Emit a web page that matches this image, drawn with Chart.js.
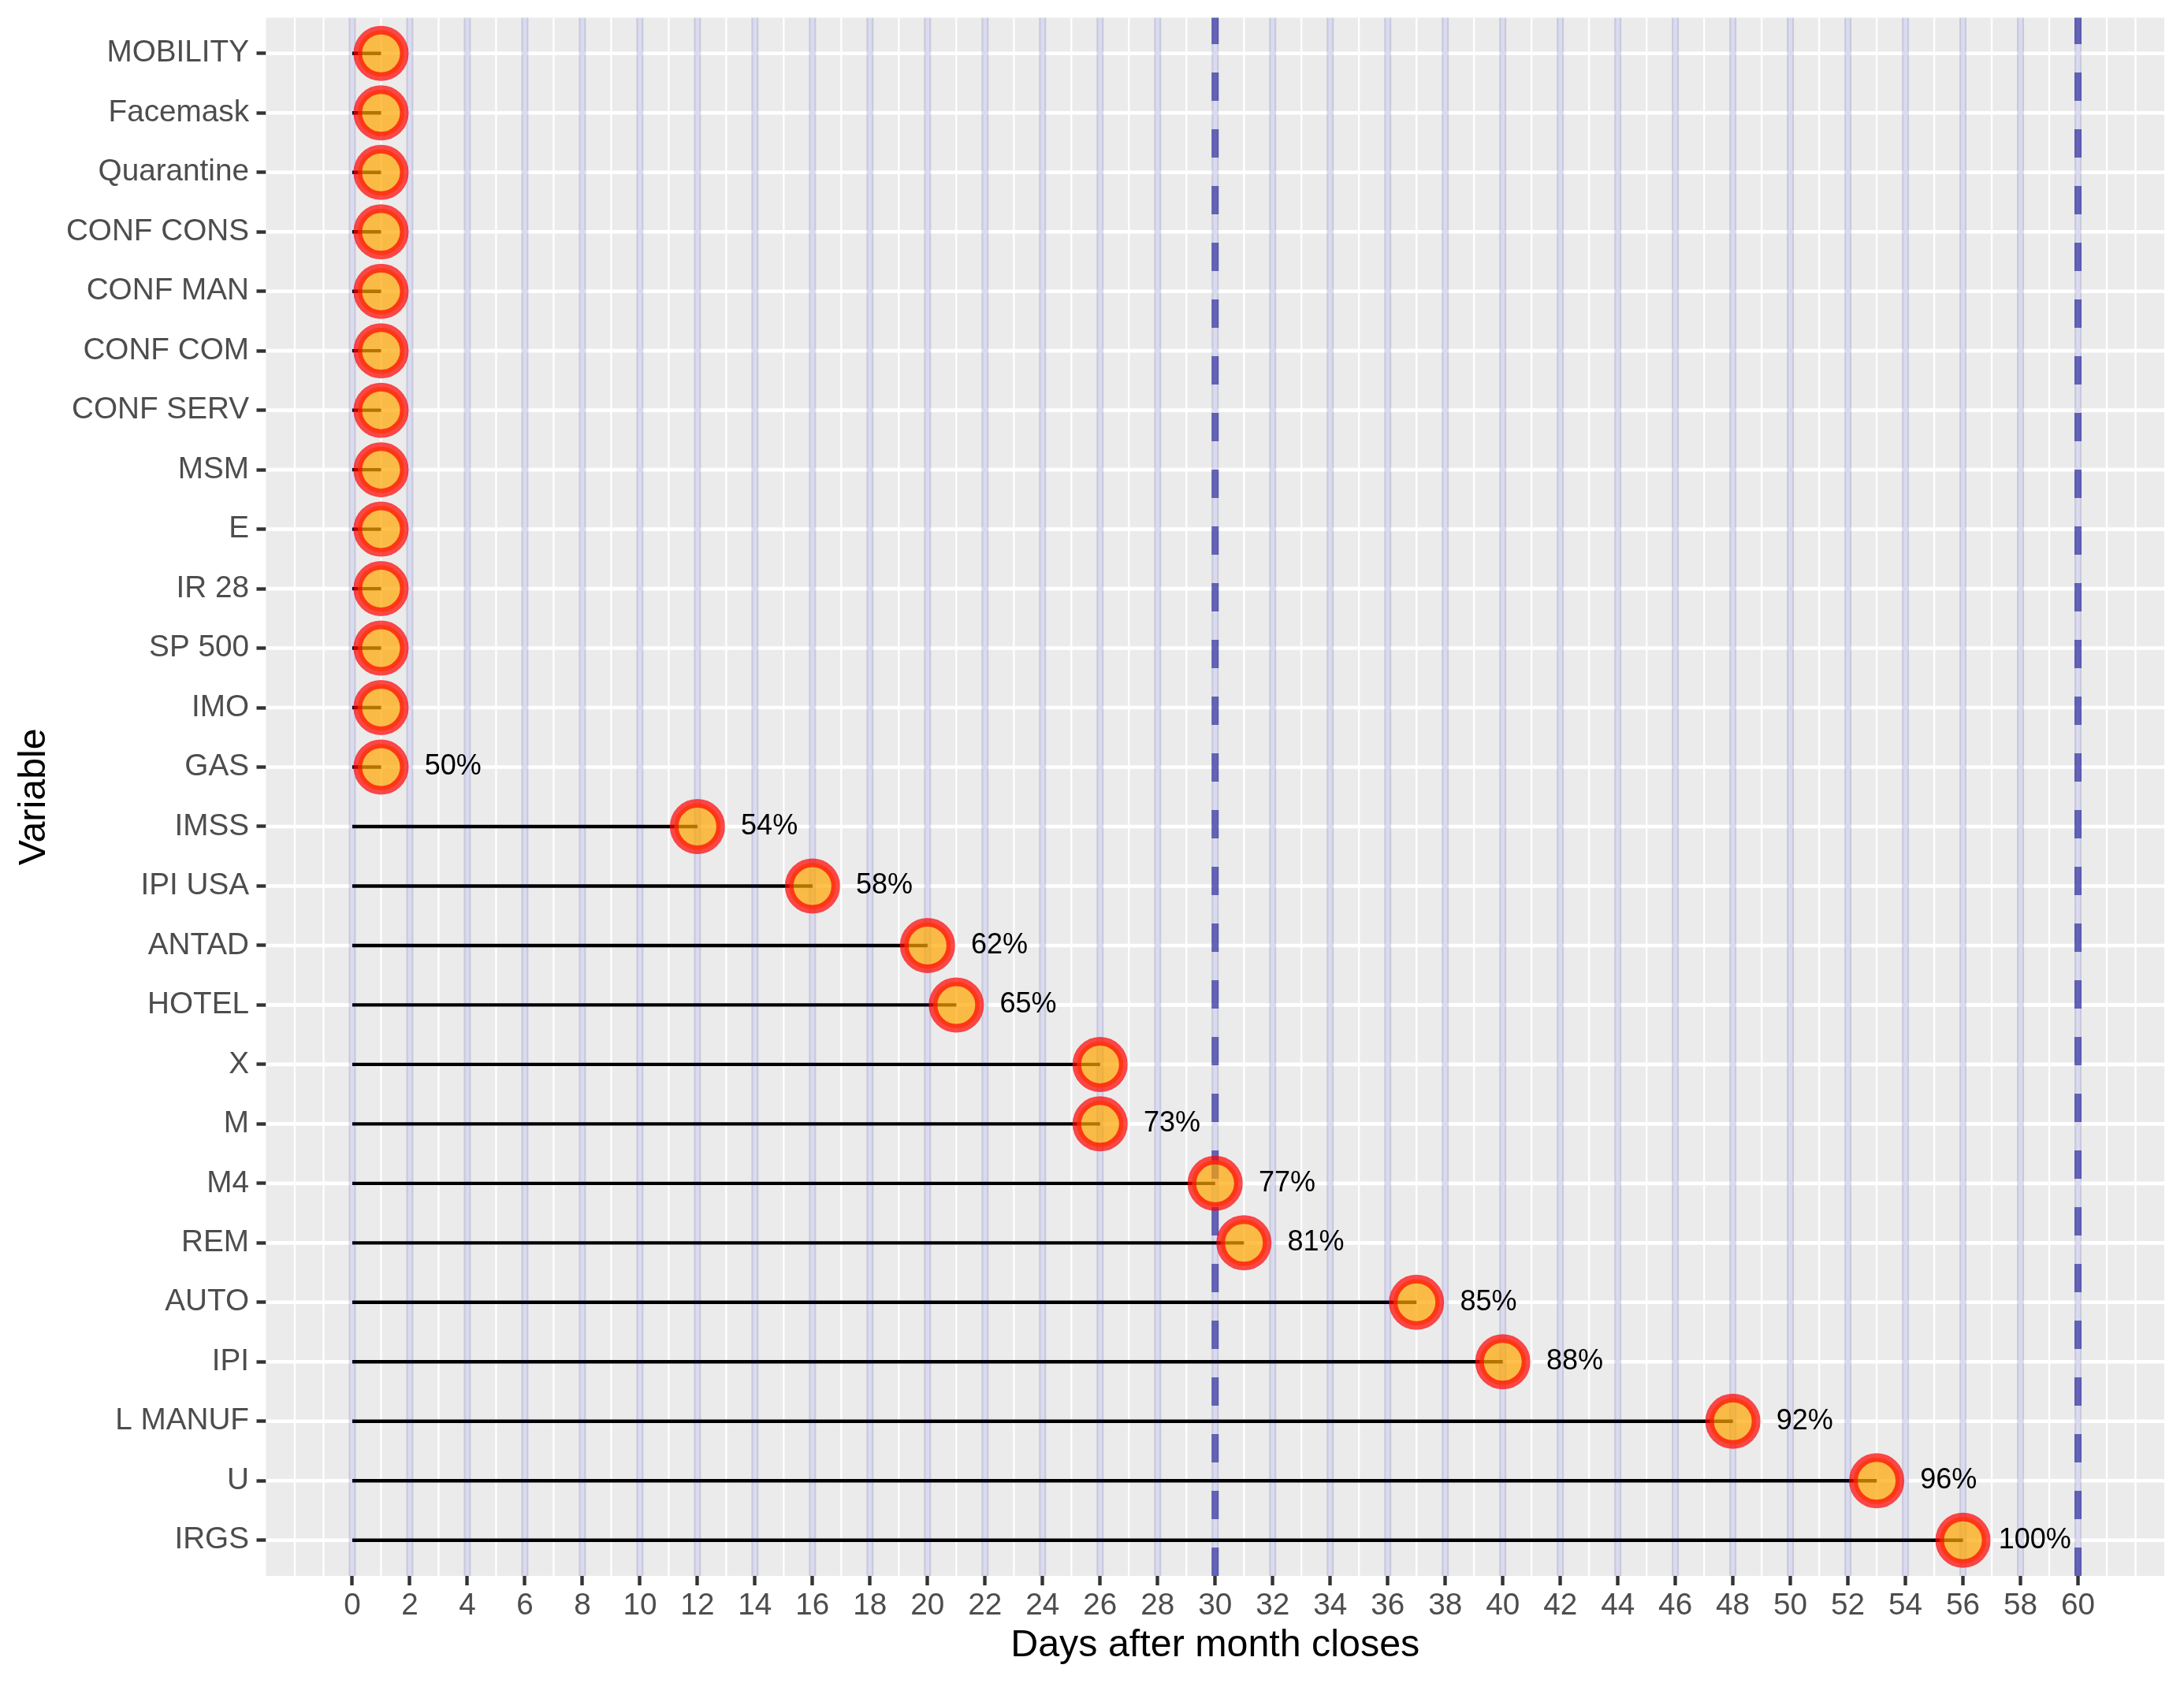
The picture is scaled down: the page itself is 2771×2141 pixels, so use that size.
<!DOCTYPE html>
<html>
<head>
<meta charset="utf-8">
<title>Days after month closes</title>
<script src="https://cdn.jsdelivr.net/npm/chart.js@4.4.1/dist/chart.umd.min.js"></script>
<style>
    html, body { margin: 0; padding: 0; background: #ffffff; }
    #wrap { width: 2771px; height: 2141px; }
</style>
</head>
<body>
<div id="wrap"><canvas id="lagChart" width="2771" height="2141"></canvas></div>
<script>
// Data
const variables = [
    'MOBILITY', 'Facemask', 'Quarantine', 'CONF CONS', 'CONF MAN', 'CONF COM',
    'CONF SERV', 'MSM', 'E', 'IR 28', 'SP 500', 'IMO', 'GAS', 'IMSS', 'IPI USA',
    'ANTAD', 'HOTEL', 'X', 'M', 'M4', 'REM', 'AUTO', 'IPI', 'L MANUF', 'U', 'IRGS'
];
const daysAfterClose = [
    1, 1, 1, 1, 1, 1,
    1, 1, 1, 1, 1, 1, 1, 12, 16,
    20, 21, 26, 26, 30, 31, 37, 40, 48, 53, 56
];
const coverageLabels = [
    '', '', '', '', '', '',
    '', '', '', '', '', '', '50%', '54%', '58%',
    '62%', '65%', '', '73%', '77%', '81%', '85%', '88%', '92%', '96%', '100%'
];
const dayTicks = [0, 2, 4, 6, 8, 10, 12, 14, 16, 18, 20, 22, 24, 26, 28, 30,
    32, 34, 36, 38, 40, 42, 44, 46, 48, 50, 52, 54, 56, 58, 60];
const referenceDays = [30, 60];

const FONT = '"Liberation Sans", Arial, sans-serif';
Chart.defaults.font.family = FONT;

// Panel background, grid, segments and vertical guide lines
const panelPlugin = {
    id: 'panel',
    beforeDatasetsDraw(chart) {
        const { ctx, chartArea: a, scales: { x, y } } = chart;
        ctx.save();
        ctx.fillStyle = '#EBEBEB';
        ctx.fillRect(a.left, a.top, a.right - a.left, a.bottom - a.top);

        ctx.strokeStyle = '#FFFFFF';
        // minor vertical grid
        ctx.lineWidth = 2.3;
        for (let d = -2; d <= 62; d++) {
            if (dayTicks.includes(d)) continue;
            const px = x.getPixelForValue(d);
            ctx.beginPath(); ctx.moveTo(px, a.top); ctx.lineTo(px, a.bottom); ctx.stroke();
        }
        // major grid
        ctx.lineWidth = 4.6;
        dayTicks.forEach(d => {
            const px = x.getPixelForValue(d);
            ctx.beginPath(); ctx.moveTo(px, a.top); ctx.lineTo(px, a.bottom); ctx.stroke();
        });
        variables.forEach((_, i) => {
            const py = y.getPixelForValue(i);
            ctx.beginPath(); ctx.moveTo(a.left, py); ctx.lineTo(a.right, py); ctx.stroke();
        });

        // lollipop sticks
        ctx.strokeStyle = '#000000';
        ctx.lineWidth = 4.4;
        daysAfterClose.forEach((d, i) => {
            const py = y.getPixelForValue(i);
            ctx.beginPath(); ctx.moveTo(x.getPixelForValue(0), py); ctx.lineTo(x.getPixelForValue(d), py); ctx.stroke();
        });

        // light guide lines
        ctx.strokeStyle = 'rgba(0, 0, 139, 0.14)';
        ctx.lineWidth = 9;
        dayTicks.forEach(d => {
            const px = x.getPixelForValue(d);
            ctx.beginPath(); ctx.moveTo(px, a.top); ctx.lineTo(px, a.bottom); ctx.stroke();
        });

        // dashed reference lines
        ctx.strokeStyle = 'rgba(0, 0, 139, 0.55)';
        ctx.setLineDash([36, 36]);
        referenceDays.forEach(d => {
            const px = x.getPixelForValue(d);
            ctx.beginPath(); ctx.moveTo(px, a.bottom); ctx.lineTo(px, a.top); ctx.stroke();
        });
        ctx.restore();
    },
    afterDatasetsDraw(chart) {
        const { ctx, scales: { x, y } } = chart;
        ctx.save();
        ctx.fillStyle = '#000000';
        ctx.font = '36px ' + FONT;
        ctx.textAlign = 'center';
        ctx.textBaseline = 'middle';
        coverageLabels.forEach((t, i) => {
            if (!t) return;
            ctx.fillText(t, x.getPixelForValue(daysAfterClose[i] + 2.5), y.getPixelForValue(i));
        });
        ctx.restore();
    }
};

const ctx = document.getElementById('lagChart').getContext('2d');
new Chart(ctx, {
    type: 'bubble',
    data: {
        datasets: [{
            label: 'Days after month closes',
            data: daysAfterClose.map((d, i) => ({ x: d, y: i })),
            radius: 29.5,
            borderWidth: 11,
            backgroundColor: 'rgba(255, 165, 0, 0.7)',
            borderColor: 'rgba(255, 0, 0, 0.7)'
        }]
    },
    options: {
        responsive: false,
        devicePixelRatio: 1,
        animation: false,
        events: [],
        layout: { autoPadding: false, padding: { left: 0, right: 25, top: 22.5, bottom: 0 } },
        plugins: {
            legend: { display: false },
            tooltip: { enabled: false }
        },
        scales: {
            x: {
                type: 'linear',
                position: 'bottom',
                min: -3,
                max: 63,
                afterBuildTicks: s => { s.ticks = dayTicks.map(v => ({ value: v })); },
                afterFit: s => {
                    s.height = 141;
                    s.paddingLeft = 0; s.paddingRight = 0;
                    s.paddingTop = 0; s.paddingBottom = 0;
                },
                grid: {
                    drawOnChartArea: false,
                    drawTicks: true,
                    tickLength: 12,
                    tickColor: '#333333',
                    tickWidth: 4.4
                },
                border: { display: false },
                ticks: {
                    color: '#4D4D4D',
                    font: { size: 38.7, lineHeight: 1 },
                    padding: 7,
                    maxRotation: 0,
                    autoSkip: false
                },
                title: {
                    display: true,
                    text: 'Days after month closes',
                    color: '#000000',
                    font: { size: 48.4, lineHeight: 1 },
                    padding: { top: 0, bottom: 27.8 }
                }
            },
            y: {
                type: 'linear',
                position: 'left',
                min: -0.6,
                max: 25.6,
                reverse: true,
                afterBuildTicks: s => { s.ticks = variables.map((_, i) => ({ value: i })); },
                afterFit: s => {
                    s.width = 337.5;
                    s.paddingLeft = 0; s.paddingRight = 0;
                    s.paddingTop = 0; s.paddingBottom = 0;
                },
                grid: {
                    drawOnChartArea: false,
                    drawTicks: true,
                    tickLength: 12,
                    tickColor: '#333333',
                    tickWidth: 4.4
                },
                border: { display: false },
                ticks: {
                    color: '#4D4D4D',
                    font: { size: 38.7, lineHeight: 1 },
                    padding: 9.5,
                    autoSkip: false,
                    callback: v => variables[v]
                },
                title: {
                    display: true,
                    text: 'Variable',
                    color: '#000000',
                    font: { size: 48.4, lineHeight: 1 },
                    padding: { top: 19.8, bottom: 0 }
                }
            }
        }
    },
    plugins: [panelPlugin]
});
</script>
</body>
</html>
